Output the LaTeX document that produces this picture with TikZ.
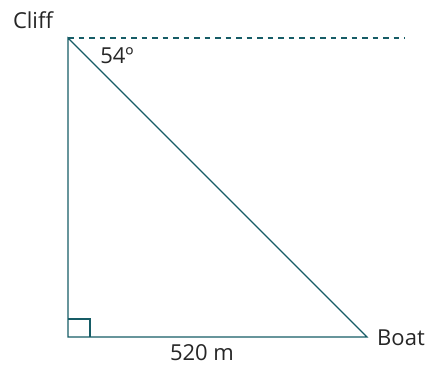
\documentclass[tikz,border=0pt]{standalone}
\usepackage{fontspec}
\setmainfont{Open Sans}
\definecolor{teal1}{RGB}{22,92,102}
\begin{document}
\begin{tikzpicture}[x=1pt,y=-1pt,
  edge/.style={draw=teal1,line width=1.1pt},
  lbl/.style={inner sep=0pt,font=\fontsize{22}{26}\selectfont,text=black!85}]
\useasboundingbox (0,0) rectangle (430,374);
\coordinate (T) at (68,38);
\coordinate (L) at (68,337);
\coordinate (R) at (367,337);
\coordinate (E) at (405,38);
\draw[edge,dash pattern=on 5.5pt off 5pt] (T) -- (E);
\draw[edge] (T) -- (L) -- (R) -- cycle;
\draw[edge] (68,319) -- (90,319) -- (90,337);
\node[lbl] (cliff) at (33,20) {Cliff};
\node[lbl] (ang) at (117,56) {54º};
\node[lbl] (boat) at (401,338) {Boat};
\node[lbl] (base) at (202,353) {520 m};
\end{tikzpicture}
\end{document}
